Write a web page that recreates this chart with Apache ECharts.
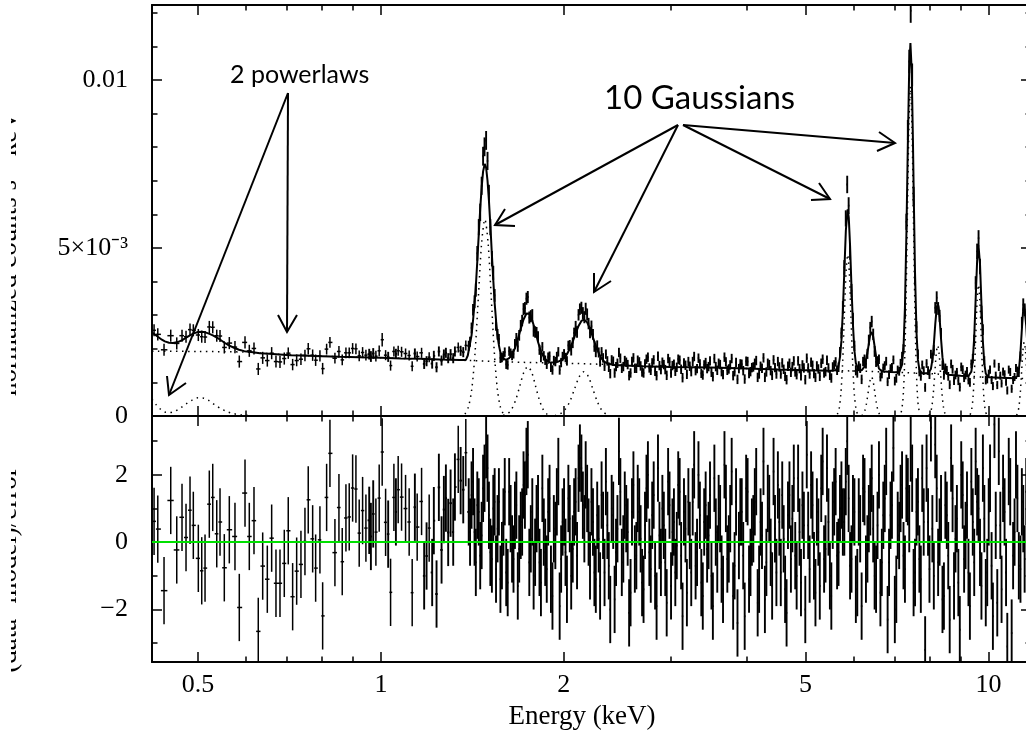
<!DOCTYPE html>
<html>
<head>
<meta charset="utf-8">
<title>Spectrum fit: 2 powerlaws + 10 Gaussians</title>
<script src="https://cdn.jsdelivr.net/npm/echarts@6.0.0/dist/echarts.min.js"></script>
<style>
  html, body { margin: 0; padding: 0; background: #fff; }
  #chart { width: 1026px; height: 730px; }
</style>
</head>
<body>
<div id="chart"></div>
<script>
// axis ranges
const E_MIN = 0.42, E_MAX = 11.75;
const RATE_MAX = 0.01223;
const RES_MIN = -3.56, RES_MAX = 3.75;

// tick values
const majorE = [0.5, 1, 2, 5, 10];
const minorE = [0.6, 0.7, 0.8, 0.9, 3, 4, 6, 7, 8, 9];
const rateMajor = [0, 0.005, 0.01];
const rateMinor = [0.001, 0.002, 0.003, 0.004, 0.006, 0.007, 0.008, 0.009, 0.011, 0.012];
const resMajor = [-2, 0, 2];
const resMinor = [-3, -1, 1, 3];

// bin centres (keV)
const energy = [
  0.4233,0.4293,0.4396,0.4509,0.4613,0.4706,0.4778,0.4851,0.4912,0.5006,
  0.5071,0.5135,0.5219,0.5287,0.5368,0.5435,0.5524,0.5630,0.5752,0.5847,
  0.5975,0.6073,0.6182,0.6283,0.6389,0.6502,0.6610,0.6719,0.6822,0.6934,
  0.7039,0.7157,0.7267,0.7386,0.7499,0.7593,0.7721,0.7809,0.7937,0.8019,
  0.8141,0.8244,0.8401,0.8530,0.8637,0.8759,0.8869,0.8984,0.9097,0.9211,
  0.9330,0.9448,0.9567,0.9628,0.9713,0.9812,0.9936,1.0049,1.0180,1.0280,
  1.0374,1.0505,1.0585,1.0677,1.0815,1.0980,1.1131,1.1259,1.1374,1.1474,
  1.1667,1.1782,1.1890,1.2008,1.2145,1.2222,1.2348,1.2457,1.2585,1.2696,
  1.2793,1.2905,1.3023,1.3153,1.3238,1.3406,1.3529,1.3663,1.3796,
  1.395,1.402,1.410,1.418,1.426,1.433,1.441,1.449,1.457,1.465,
  1.473,1.481,1.490,1.498,1.506,1.514,1.523,1.531,1.539,1.547,
  1.556,1.564,1.573,1.582,1.591,1.599,1.608,1.617,1.626,1.635,
  1.644,1.653,1.662,1.671,1.680,1.689,1.699,1.708,1.717,1.726,
  1.736,1.745,1.755,1.765,1.775,1.784,1.794,1.804,1.814,1.824,
  1.834,1.844,1.854,1.864,1.875,1.885,1.895,1.905,1.916,1.926,
  1.937,1.948,1.959,1.969,1.980,1.991,2.002,2.013,2.024,2.035,
  2.046,2.057,2.069,2.080,2.092,2.103,2.115,2.126,2.138,2.150,
  2.162,2.173,2.185,2.197,2.209,2.221,2.234,2.246,2.258,2.270,
  2.283,2.295,2.308,2.321,2.334,2.346,2.359,2.372,2.385,2.398,
  2.412,2.425,2.438,2.451,2.465,2.478,2.492,2.506,2.520,2.534,
  2.548,2.562,2.576,2.590,2.604,2.618,2.633,2.647,2.662,2.676,
  2.691,2.706,2.721,2.736,2.751,2.766,2.781,2.796,2.812,2.827,
  2.843,2.858,2.874,2.890,2.906,2.922,2.938,2.954,2.970,2.986,
  3.003,3.019,3.036,3.052,3.069,3.086,3.103,3.120,3.137,3.154,
  3.172,3.189,3.207,3.224,3.242,3.260,3.278,3.296,3.314,3.332,
  3.350,3.368,3.387,3.405,3.424,3.443,3.462,3.481,3.500,3.519,
  3.539,3.558,3.578,3.597,3.617,3.637,3.657,3.677,3.697,3.717,
  3.738,3.758,3.779,3.800,3.821,3.842,3.863,3.884,3.905,3.926,
  3.948,3.970,3.992,4.014,4.036,4.058,4.080,4.102,4.125,4.147,
  4.170,4.193,4.216,4.239,4.263,4.286,4.310,4.333,4.357,4.381,
  4.405,4.429,4.453,4.477,4.502,4.527,4.552,4.577,4.602,4.627,
  4.653,4.678,4.704,4.730,4.756,4.782,4.808,4.834,4.861,4.887,
  4.914,4.941,4.968,4.995,5.023,5.050,5.078,5.106,5.134,5.162,
  5.191,5.219,5.248,5.277,5.306,5.335,5.364,5.393,5.423,5.453,
  5.483,5.513,5.543,5.573,5.604,5.635,5.666,5.697,5.728,5.759,
  5.791,5.823,5.855,5.887,5.919,5.951,5.984,6.017,6.050,6.083,
  6.117,6.150,6.184,6.218,6.252,6.286,6.321,6.355,6.390,6.425,
  6.461,6.496,6.532,6.568,6.604,6.640,6.676,6.713,6.750,6.787,
  6.824,6.861,6.899,6.937,6.975,7.013,7.052,7.090,7.129,7.168,
  7.208,7.247,7.287,7.327,7.367,7.407,7.448,7.489,7.530,7.571,
  7.613,7.655,7.697,7.739,7.781,7.824,7.867,7.910,7.954,7.997,
  8.041,8.085,8.130,8.174,8.219,8.264,8.310,8.355,8.401,8.447,
  8.493,8.540,8.587,8.634,8.681,8.729,8.777,8.825,8.873,8.922,
  8.971,9.020,9.070,9.119,9.169,9.219,9.270,9.321,9.372,9.423,
  9.475,9.527,9.580,9.632,9.685,9.738,9.792,9.845,9.899,9.954,
  10.01,10.06,10.12,10.17,10.23,10.28,10.34,10.40,10.46,10.51,
  10.57,10.63,10.69,10.74,10.80,10.86,10.92,10.98,11.04,11.10,
  11.16,11.22,11.29,11.35,11.41,11.47,11.54,11.60,11.66,11.72,
  11.79
];

// normalized counts s^-1 keV^-1
const rate = [
  0.00255,0.00243,0.00197,0.00239,0.00216,0.00239,0.00236,0.00257,0.00255,0.00241,
  0.00236,0.00235,0.00265,0.00264,0.00239,0.00238,0.00204,0.00217,0.00205,0.00162,
  0.00219,0.00194,0.00201,0.00140,0.00173,0.00165,0.00187,0.00162,0.00161,0.00171,
  0.00187,0.00153,0.00165,0.00169,0.00180,0.00200,0.00181,0.00166,0.00179,0.00141,
  0.00199,0.00219,0.00172,0.00192,0.00167,0.00188,0.00188,0.00201,0.00200,0.00179,
  0.00189,0.00181,0.00184,0.00177,0.00186,0.00178,0.00194,0.00227,0.00181,0.00176,
  0.00150,0.00192,0.00185,0.00194,0.00191,0.00186,0.00180,0.00148,0.00186,0.00177,
  0.00188,0.00155,0.00163,0.00175,0.00156,0.00179,0.00145,0.00192,0.00165,0.00183,
  0.00188,0.00172,0.00184,0.00172,0.00192,0.00204,0.00194,0.00190,0.00210,
  0.00209,0.00221,0.00262,0.00316,0.00340,0.00375,0.00484,0.00562,0.00606,0.00685,
  0.00773,0.00801,0.00820,0.00759,0.00662,0.00562,0.00468,0.00426,0.00359,0.00271,
  0.00243,0.00229,0.00173,0.00174,0.00179,0.00190,0.00154,0.00152,0.00193,0.00187,
  0.00180,0.00185,0.00214,0.00232,0.00207,0.00240,0.00269,0.00284,0.00318,0.00321,
  0.00349,0.00354,0.00293,0.00297,0.00300,0.00253,0.00250,0.00249,0.00236,0.00197,
  0.00175,0.00206,0.00179,0.00166,0.00154,0.00175,0.00178,0.00145,0.00137,0.00165,
  0.00162,0.00177,0.00191,0.00137,0.00159,0.00177,0.00185,0.00174,0.00164,0.00210,
  0.00211,0.00195,0.00218,0.00247,0.00266,0.00250,0.00301,0.00318,0.00322,0.00306,
  0.00294,0.00319,0.00302,0.00275,0.00248,0.00267,0.00243,0.00207,0.00191,0.00210,
  0.00189,0.00161,0.00191,0.00173,0.00148,0.00184,0.00164,0.00145,0.00126,0.00167,
  0.00163,0.00128,0.00147,0.00157,0.00189,0.00172,0.00142,0.00147,0.00165,0.00160,
  0.00153,0.00120,0.00128,0.00162,0.00173,0.00142,0.00142,0.00166,0.00161,0.00149,
  0.00131,0.00128,0.00155,0.00169,0.00175,0.00143,0.00136,0.00158,0.00167,0.00133,
  0.00120,0.00178,0.00150,0.00138,0.00160,0.00153,0.00138,0.00121,0.00171,0.00161,
  0.00128,0.00150,0.00154,0.00133,0.00145,0.00169,0.00166,0.00139,0.00114,0.00158,
  0.00151,0.00124,0.00162,0.00148,0.00132,0.00162,0.00177,0.00135,0.00141,0.00172,
  0.00155,0.00127,0.00122,0.00152,0.00159,0.00141,0.00147,0.00164,0.00130,0.00117,
  0.00171,0.00147,0.00136,0.00157,0.00153,0.00132,0.00123,0.00175,0.00161,0.00136,
  0.00140,0.00152,0.00171,0.00120,0.00132,0.00159,0.00109,0.00141,0.00155,0.00154,
  0.00135,0.00110,0.00163,0.00162,0.00126,0.00132,0.00144,0.00146,0.00157,0.00165,
  0.00115,0.00125,0.00148,0.00142,0.00173,0.00115,0.00131,0.00157,0.00153,0.00135,
  0.00121,0.00167,0.00144,0.00125,0.00162,0.00146,0.00125,0.00158,0.00139,0.00118,
  0.00108,0.00148,0.00157,0.00130,0.00147,0.00164,0.00131,0.00123,0.00164,0.00141,
  0.00120,0.00152,0.00143,0.00108,0.00172,0.00143,0.00125,0.00160,0.00151,0.00126,
  0.00115,0.00149,0.00140,0.00118,0.00157,0.00169,0.00128,0.00132,0.00166,0.00143,
  0.00121,0.00113,0.00146,0.00152,0.00161,0.00136,0.00145,0.00190,0.00247,0.00323,
  0.00442,0.00588,0.00689,0.00626,0.00489,0.00373,0.00289,0.00209,0.00136,0.00128,
  0.00149,0.00142,0.00109,0.00162,0.00169,0.00155,0.00185,0.00226,0.00263,0.00281,
  0.00243,0.00192,0.00161,0.00164,0.00169,0.00116,0.00125,0.00143,0.00150,0.00163,
  0.00102,0.00123,0.00141,0.00145,0.00167,0.00104,0.00112,0.00137,0.00133,0.00157,
  0.00177,0.00199,0.00308,0.00578,0.00851,0.01055,0.01206,0.01015,0.00654,0.00410,
  0.00265,0.00184,0.00131,0.00118,0.00152,0.00135,0.00085,0.00156,0.00135,0.00123,
  0.00184,0.00172,0.00196,0.00322,0.00352,0.00320,0.00298,0.00246,0.00151,0.00121,
  0.00143,0.00136,0.00118,0.00093,0.00155,0.00139,0.00105,0.00122,0.00130,0.00105,
  0.00086,0.00146,0.00138,0.00114,0.00122,0.00133,0.00107,0.00100,0.00155,0.00171,
  0.00225,0.00396,0.00490,0.00529,0.00445,0.00308,0.00257,0.00165,0.00107,0.00109,
  0.00126,0.00138,0.00107,0.00089,0.00156,0.00120,0.00092,0.00146,0.00120,0.00097,
  0.00132,0.00124,0.00102,0.00076,0.00138,0.00131,0.00081,0.00107,0.00116,0.00143,
  0.00135,0.00129,0.00177,0.00278,0.00331,0.00316,0.00295,0.00227,0.00132,0.00113,
  0.00117
];

// 1-sigma errors on rate
const rateErr = [
  0.00018,0.00018,0.00018,0.00018,0.00018,0.00018,0.00018,0.00018,0.00018,0.00018,
  0.00018,0.00018,0.00018,0.00018,0.00018,0.00018,0.00018,0.00018,0.00018,0.00018,
  0.00018,0.00018,0.00018,0.00018,0.00018,0.00018,0.00018,0.00018,0.00018,0.00018,
  0.00017,0.00017,0.00017,0.00017,0.00017,0.00017,0.00017,0.00017,0.00017,0.00017,
  0.00016,0.00016,0.00016,0.00016,0.00016,0.00016,0.00016,0.00016,0.00016,0.00016,
  0.00016,0.00016,0.00016,0.00016,0.00016,0.00016,0.00016,0.00020,0.00015,0.00015,
  0.00015,0.00015,0.00015,0.00015,0.00015,0.00015,0.00015,0.00015,0.00015,0.00015,
  0.00015,0.00015,0.00015,0.00015,0.00015,0.00015,0.00015,0.00015,0.00015,0.00015,
  0.00015,0.00015,0.00015,0.00015,0.00015,0.00015,0.00015,0.00015,0.00015,
  0.00015,0.00015,0.00016,0.00017,0.00019,0.00020,0.00022,0.00024,0.00026,0.00027,
  0.00028,0.00028,0.00028,0.00027,0.00026,0.00024,0.00023,0.00021,0.00019,0.00017,
  0.00016,0.00015,0.00015,0.00014,0.00014,0.00014,0.00014,0.00014,0.00014,0.00014,
  0.00014,0.00014,0.00015,0.00015,0.00016,0.00016,0.00017,0.00017,0.00018,0.00018,
  0.00018,0.00018,0.00018,0.00018,0.00018,0.00017,0.00017,0.00016,0.00016,0.00015,
  0.00015,0.00014,0.00014,0.00014,0.00014,0.00014,0.00014,0.00014,0.00014,0.00014,
  0.00014,0.00014,0.00014,0.00014,0.00014,0.00014,0.00014,0.00014,0.00014,0.00014,
  0.00015,0.00015,0.00016,0.00016,0.00017,0.00017,0.00017,0.00017,0.00018,0.00018,
  0.00018,0.00018,0.00018,0.00017,0.00017,0.00017,0.00016,0.00016,0.00016,0.00015,
  0.00015,0.00014,0.00014,0.00014,0.00014,0.00014,0.00014,0.00014,0.00014,0.00014,
  0.00014,0.00014,0.00014,0.00014,0.00014,0.00014,0.00014,0.00014,0.00014,0.00014,
  0.00014,0.00014,0.00014,0.00014,0.00014,0.00014,0.00014,0.00014,0.00014,0.00014,
  0.00014,0.00014,0.00014,0.00014,0.00014,0.00014,0.00014,0.00014,0.00014,0.00014,
  0.00014,0.00014,0.00014,0.00014,0.00014,0.00014,0.00014,0.00014,0.00014,0.00014,
  0.00014,0.00014,0.00014,0.00014,0.00014,0.00014,0.00014,0.00014,0.00014,0.00014,
  0.00014,0.00014,0.00014,0.00014,0.00014,0.00014,0.00014,0.00014,0.00014,0.00014,
  0.00014,0.00014,0.00014,0.00014,0.00014,0.00014,0.00014,0.00014,0.00014,0.00014,
  0.00014,0.00014,0.00014,0.00014,0.00014,0.00014,0.00014,0.00014,0.00014,0.00014,
  0.00014,0.00014,0.00014,0.00014,0.00014,0.00014,0.00014,0.00014,0.00014,0.00014,
  0.00014,0.00014,0.00014,0.00014,0.00014,0.00014,0.00014,0.00014,0.00014,0.00014,
  0.00014,0.00014,0.00014,0.00014,0.00014,0.00014,0.00014,0.00014,0.00014,0.00014,
  0.00014,0.00014,0.00014,0.00014,0.00014,0.00014,0.00014,0.00014,0.00014,0.00014,
  0.00014,0.00014,0.00014,0.00014,0.00014,0.00014,0.00014,0.00014,0.00014,0.00014,
  0.00014,0.00014,0.00014,0.00014,0.00014,0.00014,0.00014,0.00014,0.00014,0.00014,
  0.00014,0.00014,0.00014,0.00014,0.00014,0.00014,0.00014,0.00014,0.00014,0.00014,
  0.00014,0.00014,0.00014,0.00014,0.00014,0.00014,0.00014,0.00015,0.00016,0.00019,
  0.00022,0.00024,0.00026,0.00025,0.00024,0.00020,0.00018,0.00015,0.00015,0.00014,
  0.00014,0.00014,0.00014,0.00014,0.00014,0.00014,0.00015,0.00016,0.00017,0.00017,
  0.00017,0.00016,0.00015,0.00014,0.00014,0.00013,0.00013,0.00013,0.00013,0.00013,
  0.00013,0.00013,0.00013,0.00013,0.00013,0.00013,0.00013,0.00013,0.00013,0.00013,
  0.00014,0.00015,0.00019,0.00024,0.00030,0.00035,0.00036,0.00034,0.00028,0.00022,
  0.00017,0.00014,0.00013,0.00013,0.00013,0.00013,0.00013,0.00013,0.00013,0.00013,
  0.00013,0.00014,0.00016,0.00017,0.00019,0.00019,0.00018,0.00016,0.00014,0.00013,
  0.00013,0.00013,0.00013,0.00013,0.00013,0.00013,0.00013,0.00013,0.00013,0.00013,
  0.00013,0.00013,0.00013,0.00013,0.00013,0.00013,0.00013,0.00013,0.00013,0.00014,
  0.00017,0.00020,0.00023,0.00024,0.00023,0.00020,0.00016,0.00013,0.00013,0.00012,
  0.00012,0.00012,0.00012,0.00012,0.00012,0.00012,0.00012,0.00012,0.00012,0.00012,
  0.00012,0.00012,0.00012,0.00012,0.00012,0.00012,0.00012,0.00012,0.00012,0.00012,
  0.00012,0.00013,0.00015,0.00017,0.00019,0.00019,0.00018,0.00015,0.00013,0.00012,
  0.00012
];

// (data - model) / error
const resid = [
  0.62,0.39,-1.44,1.24,-0.23,0.74,0.14,0.95,0.50,-0.48,
  -0.85,-0.77,1.13,1.33,0.25,0.60,-0.76,0.37,0.17,-1.94,
  1.46,0.17,0.64,-2.65,-0.71,-1.10,0.12,-1.22,-1.22,-0.63,
  0.34,-1.62,-0.86,-0.66,0.02,1.26,0.10,-0.77,0.07,-2.19,
  1.33,2.64,-0.31,1.03,-0.58,0.72,0.75,1.61,1.58,0.27,
  0.94,0.42,0.65,0.17,0.84,0.30,1.31,2.68,0.59,0.24,
  -1.49,1.33,0.90,1.56,1.34,1.00,0.60,-1.50,1.04,0.45,
  1.21,-1.00,-0.41,0.42,-0.90,0.64,-1.54,1.63,-0.23,0.97,
  1.31,0.29,1.16,0.30,1.64,2.46,1.83,1.56,2.66,
  0.9,0.3,1.4,1.8,0.3,-0.6,1.1,0.9,-0.4,0.2,
  1.6,1.9,2.9,2.2,0.8,-0.3,-0.5,1.0,1.2,-0.8,
  0.4,1.2,-1.1,-0.4,0.6,1.5,-0.9,-1.2,1.5,0.7,
  -0.2,-0.5,0.8,1.1,-1.3,-0.2,0.5,0.6,1.7,1.4,
  2.4,2.6,-0.6,0.1,0.9,-1.0,-0.3,0.7,1.0,-0.6,
  -1.2,1.6,0.3,-0.3,-0.8,0.9,1.3,-1.1,-1.6,0.4,
  0.2,1.2,2.1,-1.9,-0.5,0.6,0.9,-0.3,-1.4,1.3,
  0.7,-1.0,-0.2,0.9,1.2,-0.4,1.9,2.5,2.2,1.1,
  0.4,2.0,1.3,0.3,-0.7,1.2,0.6,-0.9,-1.1,0.8,
  0.1,-1.3,1.4,0.5,-0.9,1.8,0.5,-0.7,-2.0,1.0,
  0.8,-1.7,-0.3,0.4,2.7,1.5,-0.6,-0.2,1.1,0.7,
  0.3,-2.1,-1.5,0.9,1.7,-0.5,-0.4,1.3,0.9,0.1,
  -1.2,-1.4,0.5,1.6,2.0,-0.3,-0.8,0.8,1.4,-1.0,
  -1.9,2.2,0.2,-0.6,1.0,0.5,-0.6,-1.8,1.8,1.1,
  -1.3,0.3,0.6,-0.9,-0.1,1.7,1.5,-0.4,-2.2,0.9,
  0.4,-1.5,1.2,0.2,-0.9,1.2,2.3,-0.7,-0.3,2.0,
  0.8,-1.2,-1.6,0.6,1.1,-0.2,0.2,1.4,-1.0,-1.9,
  1.9,0.3,-0.5,1.0,0.7,-0.8,-1.4,2.3,1.3,-0.5,
  -0.2,0.7,2.1,-1.6,-0.7,1.2,-2.4,-0.1,0.9,0.9,
  -0.4,-2.2,1.6,1.5,-1.1,-0.6,0.3,0.4,1.2,1.8,
  -1.8,-1.1,0.6,0.2,2.4,-1.7,-0.6,1.3,1.0,-0.3,
  -1.3,2.1,0.4,-0.9,1.7,0.6,-0.9,1.4,0.1,-1.4,
  -2.1,0.8,1.4,-0.5,0.7,1.9,-0.4,-1.0,1.9,0.3,
  -1.2,1.1,0.5,-2.0,2.6,0.5,-0.8,1.7,1.1,-0.7,
  -1.5,0.9,0.3,-1.3,1.6,2.4,-0.5,-0.2,2.2,0.6,
  -1.0,-1.6,0.8,1.2,1.8,-0.4,-0.3,1.0,1.4,0.6,
  0.6,1.8,3.0,1.3,-0.7,-0.5,1.0,0.9,-1.4,-1.2,
  0.9,0.4,-1.9,1.6,1.5,-0.8,-0.2,0.7,1.2,1.9,
  0.4,-1.0,-1.1,0.5,2.0,-1.5,-0.6,0.8,1.3,2.4,
  -2.3,-0.6,0.8,1.1,2.8,-2.0,-1.4,0.5,0.2,1.3,
  1.7,-0.4,-0.8,1.6,1.5,0.7,2.8,1.9,-1.2,-0.9,
  0.9,1.2,-0.5,-1.1,1.9,0.6,-3.2,2.2,0.6,-0.8,
  3.4,0.4,-1.0,2.9,1.6,-0.6,0.3,1.0,-1.7,-1.6,
  1.1,0.8,-0.4,-2.3,2.5,1.3,-1.3,0.1,0.7,-1.2,
  -2.6,2.0,1.4,-0.5,0.2,1.1,-0.9,-1.9,1.8,0.6,
  -0.6,2.4,1.2,1.0,-0.3,-1.3,2.2,0.7,-1.5,-0.9,
  0.9,1.9,-0.7,-2.2,3.5,0.5,-1.8,2.7,0.5,-1.4,
  1.6,0.9,-0.9,-3.1,2.1,1.5,-2.7,-0.4,0.3,2.3,
  1.3,-0.7,-0.8,1.2,0.7,-0.5,1.5,1.8,-1.1,-1.0,
  0.4
];

// total folded model
const modelCurve = [
  [0.420,0.00248],[0.425,0.00242],[0.430,0.00235],[0.436,0.00227],[0.441,0.00222],[0.448,0.00218],
  [0.455,0.00217],[0.463,0.00220],[0.471,0.00226],[0.478,0.00233],[0.485,0.00240],[0.492,0.00246],
  [0.500,0.00250],[0.507,0.00251],[0.514,0.00249],[0.521,0.00245],[0.529,0.00240],[0.537,0.00233],
  [0.544,0.00227],[0.553,0.00218],[0.562,0.00210],[0.573,0.00203],[0.584,0.00197],[0.596,0.00193],
  [0.607,0.00191],[0.620,0.00189],[0.632,0.00187],[0.655,0.00185],[0.682,0.00183],[0.710,0.00181],
  [0.740,0.00180],[0.800,0.00178],[0.856,0.00176],[0.920,0.00175],[1.000,0.00173],[1.080,0.00171],
  [1.160,0.00170],[1.250,0.00168],[1.350,0.00167],[1.380,0.00167],[1.390,0.00180],[1.400,0.00210],
  [1.410,0.00240],[1.418,0.00285],[1.426,0.00334],[1.434,0.00395],[1.441,0.00460],[1.449,0.00540],
  [1.457,0.00616],[1.465,0.00680],[1.473,0.00728],[1.482,0.00750],[1.490,0.00739],[1.498,0.00700],
  [1.506,0.00641],[1.515,0.00560],[1.523,0.00480],[1.531,0.00405],[1.539,0.00336],[1.548,0.00280],
  [1.556,0.00237],[1.565,0.00208],[1.573,0.00189],[1.591,0.00171],[1.608,0.00167],[1.626,0.00172],
  [1.644,0.00183],[1.662,0.00202],[1.680,0.00228],[1.699,0.00260],[1.717,0.00287],[1.736,0.00305],
  [1.745,0.00307],[1.755,0.00304],[1.775,0.00284],[1.794,0.00255],[1.814,0.00220],[1.834,0.00193],
  [1.854,0.00175],[1.875,0.00165],[1.895,0.00160],[1.937,0.00159],[1.959,0.00162],[1.980,0.00166],
  [2.002,0.00172],[2.024,0.00184],[2.046,0.00200],[2.069,0.00221],[2.092,0.00246],[2.115,0.00268],
  [2.138,0.00283],[2.158,0.00287],[2.185,0.00279],[2.209,0.00260],[2.234,0.00233],[2.258,0.00209],
  [2.283,0.00187],[2.308,0.00171],[2.334,0.00161],[2.359,0.00157],[2.412,0.00152],[2.520,0.00150],
  [2.700,0.00148],[3.000,0.00146],[3.500,0.00144],[4.000,0.00141],[4.500,0.00138],[5.000,0.00136],
  [5.500,0.00135],[5.604,0.00136],[5.666,0.00149],[5.700,0.00178],[5.728,0.00225],[5.760,0.00315],
  [5.791,0.00429],[5.825,0.00552],[5.865,0.00615],[5.890,0.00590],[5.919,0.00506],[5.950,0.00387],
  [5.984,0.00271],[6.017,0.00195],[6.050,0.00157],[6.117,0.00136],[6.184,0.00136],[6.252,0.00147],
  [6.321,0.00188],[6.390,0.00243],[6.420,0.00250],[6.461,0.00236],[6.532,0.00177],[6.604,0.00141],
  [6.676,0.00133],[6.900,0.00131],[7.129,0.00130],[7.208,0.00153],[7.250,0.00210],[7.287,0.00323],
  [7.330,0.00556],[7.367,0.00806],[7.405,0.01030],[7.440,0.01110],[7.475,0.01030],[7.510,0.00828],
  [7.530,0.00687],[7.570,0.00430],[7.613,0.00250],[7.655,0.00167],[7.697,0.00138],[7.781,0.00127],
  [7.954,0.00127],[8.041,0.00140],[8.090,0.00169],[8.130,0.00212],[8.175,0.00274],[8.219,0.00322],
  [8.250,0.00335],[8.280,0.00324],[8.310,0.00292],[8.355,0.00230],[8.401,0.00175],[8.450,0.00141],
  [8.493,0.00129],[8.587,0.00123],[9.000,0.00120],[9.270,0.00119],[9.372,0.00132],[9.420,0.00161],
  [9.475,0.00235],[9.530,0.00355],[9.580,0.00462],[9.630,0.00507],[9.685,0.00452],[9.740,0.00330],
  [9.792,0.00221],[9.845,0.00156],[9.899,0.00126],[10.01,0.00115],[10.50,0.00114],[11.04,0.00112],
  [11.16,0.00119],[11.23,0.00142],[11.29,0.00189],[11.35,0.00258],[11.41,0.00318],[11.45,0.00332],
  [11.54,0.00268],[11.60,0.00200],[11.66,0.00146],[11.79,0.00112]
];

// model components (dotted)
const powerlaw1 = [
  [0.42,0.00193],[0.5,0.00192],[0.6,0.00190],[0.7,0.00182],[0.8,0.00178],[1.0,0.00173],[1.2,0.00169],
  [1.4,0.00165],[1.6,0.00161],[2.0,0.00157],[2.3,0.00154],[2.6,0.00149],[3.0,0.00146],[4.0,0.00141],
  [5.0,0.00136],[6.0,0.00134],[7.0,0.00130],[8.0,0.00126],[9.0,0.00120],[10.0,0.00115],[11.75,0.00111]
];
const powerlaw2 = [
  [0.420,0.00050],[0.427,0.00033],[0.434,0.00020],[0.441,0.00012],[0.449,0.00010],[0.458,0.00014],
  [0.468,0.00024],[0.478,0.00036],[0.489,0.00047],[0.500,0.00054],[0.511,0.00053],[0.522,0.00045],
  [0.533,0.00033],[0.545,0.00022],[0.558,0.00013],[0.572,0.00007],[0.590,0.00003],[0.615,0.00001],
  [0.640,0]
];
const gaussLines = [
  [[1.375,0.00006],[1.393,0.00026],[1.411,0.00079],[1.429,0.00190],[1.447,0.00355],[1.465,0.00516],[1.483,0.00585],
   [1.501,0.00516],[1.519,0.00355],[1.537,0.00190],[1.555,0.00079],[1.573,0.00026],[1.591,0.00006]],
  [[1.589,0.00002],[1.615,0.00006],[1.641,0.00020],[1.667,0.00048],[1.693,0.00089],[1.719,0.00130],[1.745,0.00147],
   [1.771,0.00130],[1.797,0.00089],[1.823,0.00048],[1.849,0.00020],[1.875,0.00006],[1.901,0.00002]],
  [[1.933,0.00001],[1.971,0.00006],[2.008,0.00018],[2.046,0.00043],[2.083,0.00080],[2.121,0.00117],[2.158,0.00132],
   [2.196,0.00117],[2.233,0.00080],[2.271,0.00043],[2.308,0.00018],[2.346,0.00006],[2.383,0.00001]],
  [[5.640,0.00005],[5.678,0.00021],[5.715,0.00065],[5.753,0.00156],[5.790,0.00291],[5.828,0.00424],[5.865,0.00480],
   [5.903,0.00424],[5.940,0.00291],[5.978,0.00156],[6.015,0.00065],[6.053,0.00021],[6.090,0.00005]],
  [[6.18,0.00001],[6.22,0.00005],[6.26,0.00016],[6.30,0.00038],[6.34,0.00071],[6.38,0.00103],[6.42,0.00117],
   [6.46,0.00103],[6.50,0.00071],[6.54,0.00038],[6.58,0.00016],[6.62,0.00005],[6.66,0.00001]],
  [[7.185,0.00011],[7.228,0.00043],[7.270,0.00133],[7.313,0.00318],[7.355,0.00594],[7.398,0.00865],[7.440,0.00980],
   [7.483,0.00865],[7.525,0.00594],[7.568,0.00318],[7.610,0.00133],[7.653,0.00043],[7.695,0.00011]],
  [[7.980,0.00002],[8.025,0.00009],[8.070,0.00028],[8.115,0.00068],[8.160,0.00127],[8.205,0.00185],[8.250,0.00210],
   [8.295,0.00185],[8.340,0.00127],[8.385,0.00068],[8.430,0.00028],[8.475,0.00009],[8.520,0.00002]],
  [[9.33,0.00004],[9.38,0.00017],[9.43,0.00053],[9.48,0.00127],[9.53,0.00237],[9.58,0.00344],[9.63,0.00390],
   [9.68,0.00344],[9.73,0.00237],[9.78,0.00127],[9.83,0.00053],[9.88,0.00017],[9.93,0.00004]],
  [[11.12,0.00002],[11.175,0.00010],[11.23,0.00030],[11.285,0.00071],[11.34,0.00133],[11.395,0.00194],[11.45,0.00220],
   [11.505,0.00194],[11.56,0.00133],[11.615,0.00071],[11.67,0.00030],[11.725,0.00010],[11.78,0.00002]]
];

// ---------------------------------------------------------------

// geometric bin edges between neighbouring channels
function binEdges(e) {
  return e.map((v, i) => {
    const lo = i > 0 ? Math.sqrt(e[i - 1] * v) : v * Math.sqrt(v / e[i + 1]);
    const hi = i < e.length - 1 ? Math.sqrt(v * e[i + 1]) : v * Math.sqrt(v / e[i - 1]);
    return [lo, hi];
  });
}
const edges = binEdges(energy);
const spectrumData = energy.map((e, i) => [e, rate[i], rateErr[i], edges[i][0], edges[i][1]]);
const residData = energy.map((e, i) => [e, resid[i], 1, edges[i][0], edges[i][1]]);

function errorBarItem(params, api) {
  const cs = params.coordSys;
  const x0 = cs.x, x1 = cs.x + cs.width, y0 = cs.y, y1 = cs.y + cs.height;
  const clampX = v => Math.min(Math.max(v, x0), x1);
  const clampY = v => Math.min(Math.max(v, y0), y1);
  const e = api.value(0), v = api.value(1), err = api.value(2);
  const up = api.coord([e, v + err]);
  const down = api.coord([e, v - err]);
  const left = api.coord([api.value(3), v]);
  const right = api.coord([api.value(4), v]);
  // narrow bins (dense channels) get a slightly heavier stroke so they merge like the original
  const style = { stroke: '#000', lineWidth: right[0] - left[0] < 2.6 ? 1.9 : 1.5 };
  const children = [];
  if (up[0] >= x0 && up[0] <= x1) {
    children.push({ type: 'line', shape: { x1: up[0], y1: clampY(up[1]), x2: down[0], y2: clampY(down[1]) }, style });
  }
  if (left[1] >= y0 && left[1] <= y1 && left[0] < x1) {
    children.push({ type: 'line', shape: { x1: clampX(left[0]), y1: left[1], x2: clampX(right[0]), y2: right[1] }, style });
  }
  return { type: 'group', children };
}

const serif = 'Liberation Serif';
const frameLine = { show: true, onZero: false, lineStyle: { color: '#000', width: 1.5 } };

function energyAxis(gridIndex, position, ticks, len, labels) {
  const axis = {
    type: 'log', gridIndex, position, min: E_MIN, max: E_MAX,
    axisLine: frameLine,
    axisTick: { show: true, inside: true, length: len, customValues: ticks, lineStyle: { color: '#000', width: 1.5 } },
    axisLabel: { show: false },
    splitLine: { show: false }
  };
  if (labels) {
    axis.axisLabel = {
      show: true, customValues: majorE, margin: 10, color: '#000', fontFamily: serif, fontSize: 26,
      formatter: v => String(+Number(v).toPrecision(2))
    };
  }
  return axis;
}

function valueAxis(gridIndex, position, min, max, ticks, len, labels, fmt) {
  const axis = {
    type: 'value', gridIndex, position, min, max,
    axisLine: frameLine,
    axisTick: { show: true, inside: true, length: len, customValues: ticks, lineStyle: { color: '#000', width: 1.5 } },
    axisLabel: { show: false },
    splitLine: { show: false }
  };
  if (labels) {
    axis.axisLabel = {
      show: true, customValues: labels, margin: 24, color: '#000', fontFamily: serif, fontSize: 26,
      formatter: fmt
    };
  }
  return axis;
}

const rateLabel = v => (v === 0 ? '0' : Math.abs(v - 0.005) < 1e-9 ? '5×10⁻³' : '0.01');
const resLabel = v => (v < 0 ? '−' + Math.abs(v) : String(v));

const dotted = { color: '#000', width: 1.5, type: [1.5, 4.5] };
const componentSeries = [powerlaw1, powerlaw2].concat(gaussLines).map(pts => ({
  type: 'line', xAxisIndex: 0, yAxisIndex: 0, data: pts, symbol: 'none', smooth: 0.3,
  silent: true, lineStyle: dotted, z: 4
}));

const arrowStyle = { stroke: '#000', lineWidth: 2, fill: null };
function arrow(from, tip, arm1, arm2) {
  return [
    { type: 'line', shape: { x1: from[0], y1: from[1], x2: tip[0], y2: tip[1] }, style: arrowStyle, z: 50 },
    { type: 'polyline', shape: { points: [arm1, tip, arm2] }, style: arrowStyle, z: 50 }
  ];
}

const chart = echarts.init(document.getElementById('chart'));
chart.setOption({
  animation: false,
  backgroundColor: '#fff',
  textStyle: { fontFamily: serif },
  grid: [
    { left: 152, top: 5, width: 879, height: 411, show: true, borderColor: '#000', borderWidth: 1.5,
      backgroundColor: 'transparent', outerBoundsMode: 'none' },
    { left: 152, top: 416, width: 879, height: 246, show: true, borderColor: '#000', borderWidth: 1.5,
      backgroundColor: 'transparent', outerBoundsMode: 'none' }
  ],
  xAxis: [
    energyAxis(0, 'bottom', majorE, 10),
    energyAxis(0, 'bottom', minorE, 5.5),
    energyAxis(0, 'top', majorE, 10),
    energyAxis(0, 'top', minorE, 5.5),
    energyAxis(1, 'bottom', majorE, 10, true),
    energyAxis(1, 'bottom', minorE, 5.5),
    energyAxis(1, 'top', majorE, 10),
    energyAxis(1, 'top', minorE, 5.5)
  ],
  yAxis: [
    valueAxis(0, 'left', 0, RATE_MAX, rateMinor, 5.5, rateMajor, rateLabel),
    valueAxis(0, 'left', 0, RATE_MAX, rateMajor, 10),
    valueAxis(0, 'right', 0, RATE_MAX, rateMinor, 5.5),
    valueAxis(0, 'right', 0, RATE_MAX, rateMajor, 10),
    valueAxis(1, 'left', RES_MIN, RES_MAX, resMinor, 5.5, resMajor, resLabel),
    valueAxis(1, 'left', RES_MIN, RES_MAX, resMajor, 10),
    valueAxis(1, 'right', RES_MIN, RES_MAX, resMinor, 5.5),
    valueAxis(1, 'right', RES_MIN, RES_MAX, resMajor, 10)
  ],
  series: [
    {
      type: 'custom', name: 'data', xAxisIndex: 0, yAxisIndex: 0, data: spectrumData,
      encode: { x: 0, y: 1 }, renderItem: errorBarItem, silent: true, z: 2
    },
    {
      type: 'line', name: 'model', xAxisIndex: 0, yAxisIndex: 0, data: modelCurve, symbol: 'none',
      silent: true, lineStyle: { color: '#000', width: 2 }, z: 5
    },
    ...componentSeries,
    {
      type: 'custom', name: 'residuals', xAxisIndex: 4, yAxisIndex: 4, data: residData,
      encode: { x: 0, y: 1 }, renderItem: errorBarItem, silent: true, z: 2
    },
    {
      type: 'line', name: 'zero', xAxisIndex: 4, yAxisIndex: 4, data: [], silent: true, z: 6,
      markLine: {
        silent: true, symbol: 'none', label: { show: false },
        lineStyle: { color: '#00e000', width: 2, type: 'solid' },
        data: [{ yAxis: 0 }]
      }
    }
  ],
  graphic: [
    { type: 'text', x: 22, y: 245, rotation: Math.PI / 2, z: 10,
      style: { text: 'normalized counts s⁻¹ keV⁻¹', fontFamily: serif, fontSize: 27, fill: '#000',
               align: 'center', verticalAlign: 'bottom' } },
    { type: 'text', x: 22, y: 570, rotation: Math.PI / 2, z: 10,
      style: { text: '(data−model)/error', fontFamily: serif, fontSize: 27, fill: '#000',
               align: 'center', verticalAlign: 'bottom' } },
    { type: 'rect', shape: { x: 0, y: 0, width: 11, height: 730 }, style: { fill: '#fff' }, z: 20 },
    { type: 'text', x: 582, y: 703, z: 10,
      style: { text: 'Energy (keV)', fontFamily: serif, fontSize: 27, fill: '#000', align: 'center', verticalAlign: 'top' } },
    { type: 'text', x: 230, y: 62, z: 50,
      style: { text: '2 powerlaws', fontFamily: 'Lato', fontSize: 25, fill: '#000', verticalAlign: 'top' } },
    { type: 'text', x: 604, y: 82, z: 50,
      style: { text: '10 Gaussians', fontFamily: 'Lato', fontSize: 33, fill: '#000', verticalAlign: 'top' } },
    ...arrow([288, 93], [169, 395], [167, 376], [186, 383]),
    ...arrow([288, 93], [287, 332], [278, 315], [297, 315]),
    ...arrow([678, 125], [495, 225], [505, 209], [515, 226]),
    ...arrow([678, 125], [594, 292], [594, 273], [611, 281]),
    ...arrow([683, 125], [830, 199], [811, 200], [819, 183]),
    ...arrow([683, 125], [895, 143], [877, 151], [879, 132])
  ]
});
</script>
</body>
</html>
